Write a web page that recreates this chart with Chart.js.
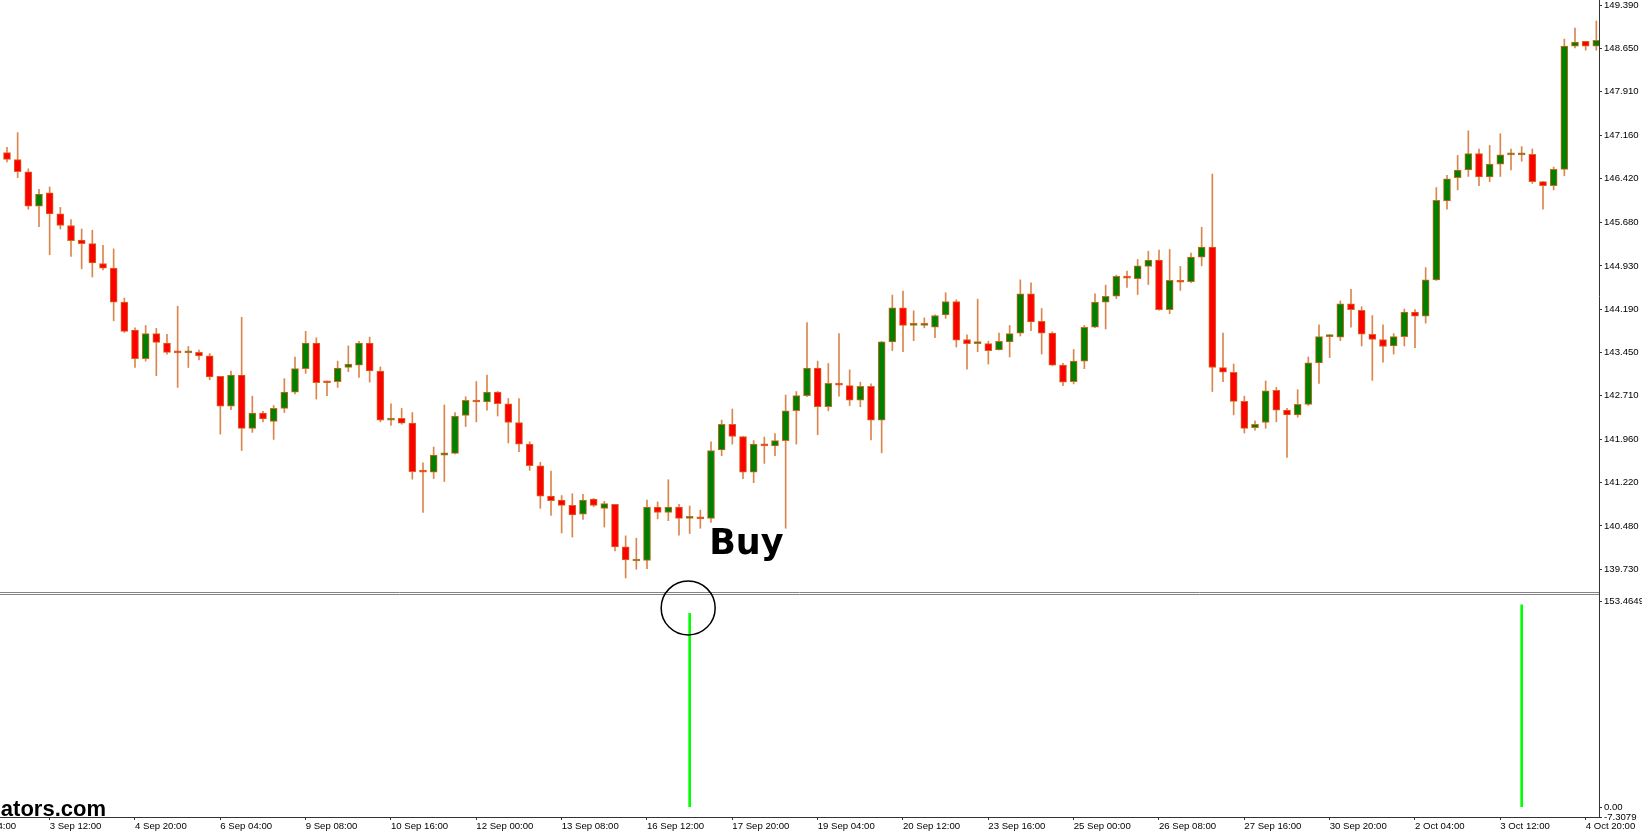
<!DOCTYPE html>
<html>
<head>
<meta charset="utf-8">
<script src="https://cdn.jsdelivr.net/npm/chart.js@4.4.1/dist/chart.umd.min.js"></script>
<style>
html,body{margin:0;padding:0;background:#fff;overflow:hidden}
canvas{display:block}
</style>
</head>
<body>
<canvas id="c" width="1642" height="832"></canvas>
<script>
// ---- H4 candles (USDJPY-like), index 0 = 2 Sep 20:00 ----
const opens = [
146.87,146.75,146.54,145.95,146.18,145.82,145.62,145.37,145.31,144.97,
144.89,144.31,143.83,143.34,143.77,143.61,143.45,143.44,143.45,143.39,
143.04,142.53,143.06,142.15,142.41,142.27,142.49,142.77,143.17,143.61,
142.95,142.95,143.19,143.23,143.61,143.13,142.29,142.32,142.24,141.41,
141.40,141.69,141.72,142.37,142.63,142.60,142.77,142.57,142.25,141.88,
141.51,140.99,140.92,140.83,140.68,140.94,140.78,140.85,140.12,139.88,
139.89,140.80,140.71,140.80,140.61,140.61,140.61,141.78,142.22,142.01,
141.40,141.88,141.85,141.94,142.45,142.71,143.18,142.52,142.92,142.88,
142.63,142.87,142.29,143.63,144.21,143.91,143.91,143.88,144.09,144.32,
143.67,143.60,143.60,143.49,143.63,143.78,144.45,143.98,143.78,143.23,
142.95,143.30,143.88,144.31,144.41,144.75,144.71,144.92,145.03,144.18,
144.68,144.66,145.08,145.25,143.19,143.11,142.61,142.16,142.25,142.80,
142.46,142.38,142.56,143.27,143.72,143.71,144.28,144.17,143.76,143.67,
143.56,143.72,144.14,144.07,144.69,146.04,146.44,146.57,146.85,146.45,
146.67,146.83,146.83,146.84,146.37,146.30,146.58,148.69,148.77,148.69
];
const highs = [
146.96,147.21,146.59,146.24,146.28,145.93,145.72,145.56,145.54,145.28,
145.22,144.38,143.87,143.91,143.86,143.76,144.24,143.55,143.49,143.43,
143.04,143.13,144.05,142.70,142.44,142.54,143.00,143.37,143.81,143.70,
142.96,143.30,143.56,143.64,143.71,143.20,142.57,142.49,142.42,141.56,
141.83,142.55,142.42,142.69,142.95,143.06,142.78,142.66,142.66,141.92,
141.57,141.42,141.00,141.03,141.02,140.95,140.90,140.85,140.31,140.27,
140.92,140.89,141.27,140.85,140.82,140.75,141.92,142.29,142.48,142.01,
141.94,142.00,142.06,142.72,142.78,143.96,143.30,143.26,143.77,143.15,
142.94,142.91,143.64,144.43,144.50,144.16,144.04,144.09,144.47,144.35,
143.75,144.36,143.64,143.78,143.91,144.69,144.64,144.20,143.80,143.26,
143.50,143.91,144.45,144.60,144.77,144.84,145.04,145.18,145.20,145.21,
144.92,145.15,145.59,146.50,143.78,143.25,142.70,142.28,142.96,142.85,
142.49,142.81,143.37,143.92,143.75,144.33,144.53,144.23,144.08,143.92,
143.77,144.19,144.18,144.90,146.27,146.48,146.82,147.24,146.93,146.99,
147.19,146.93,146.97,146.93,146.37,146.62,148.81,149.00,148.77,149.12
];
const lows = [
146.71,146.44,145.90,145.60,145.12,145.56,145.09,144.88,144.74,144.86,
143.99,143.79,143.19,143.30,143.05,143.42,142.85,143.19,143.32,142.98,
142.05,142.47,141.77,142.08,142.26,141.96,142.42,142.74,143.09,142.65,
142.71,142.85,143.12,143.02,142.94,142.26,142.20,142.22,141.28,140.71,
141.29,141.24,141.71,142.18,142.26,142.46,142.36,141.90,141.75,141.43,
140.78,140.66,140.36,140.29,140.59,140.81,140.46,140.05,139.59,139.74,
139.75,140.60,140.57,140.32,140.35,140.44,140.54,141.68,141.88,141.29,
141.22,141.55,141.68,140.44,141.88,142.69,142.04,142.45,142.70,142.54,
142.52,141.95,141.73,143.48,143.46,143.65,143.87,143.70,144.03,143.54,
143.16,143.46,143.25,143.49,143.37,143.73,143.82,143.42,143.22,142.88,
142.91,143.17,143.87,143.85,144.37,144.56,144.44,144.61,144.17,144.11,
144.51,144.64,144.93,142.78,142.95,142.38,142.07,142.12,142.15,142.26,
141.65,142.34,142.54,142.92,143.36,143.65,143.88,143.56,142.97,143.28,
143.42,143.56,143.53,143.95,144.68,145.90,146.23,146.46,146.30,146.37,
146.46,146.57,146.72,146.34,145.90,146.23,146.47,148.66,148.62,148.62
];
const closes = [
146.75,146.54,145.95,146.16,145.82,145.62,145.36,145.31,144.98,144.89,
144.31,143.81,143.34,143.77,143.62,143.45,143.44,143.44,143.39,143.03,
142.53,143.06,142.15,142.41,142.31,142.49,142.77,143.17,143.61,142.93,
142.93,143.18,143.25,143.61,143.13,142.29,142.30,142.24,141.41,141.40,
141.69,141.73,142.36,142.63,142.60,142.77,142.57,142.25,141.88,141.51,
140.99,140.91,140.83,140.67,140.92,140.83,140.86,140.12,139.90,139.90,
140.80,140.71,140.80,140.61,140.61,140.60,141.77,142.22,142.01,141.40,
141.88,141.85,141.94,142.45,142.71,143.18,142.52,142.92,142.89,142.63,
142.87,142.29,143.63,144.21,143.91,143.91,143.92,144.08,144.32,143.66,
143.60,143.60,143.48,143.64,143.77,144.45,143.97,143.78,143.23,142.94,
143.30,143.88,144.31,144.41,144.75,144.72,144.93,145.03,144.18,144.68,
144.65,145.08,145.25,143.19,143.11,142.61,142.15,142.22,142.79,142.46,
142.38,142.56,143.27,143.72,143.72,144.28,144.18,143.76,143.67,143.55,
143.72,144.14,144.07,144.69,146.05,146.42,146.57,146.85,146.45,146.67,
146.83,146.83,146.84,146.37,146.30,146.58,148.69,148.76,148.69,148.79
];

// indicator histogram (bar index -> value)
const signalIndex  = [64, 142];
const signalValues = [144.5, 150.9];
const signalText   = 'Buy';

// axis tick labels
const priceTicks = [149.390,148.650,147.910,147.160,146.420,145.680,144.930,144.190,143.450,142.710,141.960,141.220,140.480,139.730];
const indicatorTicks = [153.4649, 0, -7.3079];
const indicatorTickLabels = ['153.4649', '0.00', '-7.3079'];
const timeTickIndices = [-4,4,12,20,28,36,44,52,60,68,76,84,92,100,108,116,124,132,140,148];
const watermark = 'indicators.com';

// bar times: H4 bars starting 2 Sep 2024 04:00 (index -4); first drawn bar (index 0) = 2 Sep 20:00
const FIRST_INDEX = -4;
const MONTHS = ['Jan','Feb','Mar','Apr','May','Jun','Jul','Aug','Sep','Oct','Nov','Dec'];
function buildBarTimes(n) {
  const H = 3600e3, out = [];
  let t = Date.UTC(2024, 8, 2, 4);
  while (out.length < n) {
    const d = new Date(t);
    out.push(d.getUTCDate() + ' ' + MONTHS[d.getUTCMonth()] + ' ' + String(d.getUTCHours()).padStart(2, '0') + ':00');
    t += 4 * H;
    let nd = new Date(t);
    while (nd.getUTCDay() === 6 || (nd.getUTCDay() === 0 && nd.getUTCHours() < 20)) { t += 4 * H; nd = new Date(t); }
  }
  return out;
}
const barTimes = buildBarTimes(closes.length - FIRST_INDEX);
const timeLabel = i => barTimes[i - FIRST_INDEX];

// ---- build datasets ----
const idx = closes.map((_, i) => i);
const wickData = idx.map(i => ({x: i, y: [lows[i], highs[i]]}));
const bodyData = idx.map(i => ({x: i, y: [opens[i], closes[i]]}));
const bodyColors = idx.map(i => closes[i] >= opens[i] ? '#008000' : '#ff0000');
const signalData = signalIndex.map((x, k) => ({x: x, y: [0, signalValues[k]]}));

const CANDLE_EDGE = '#d2691e';
const AXIS_COLOR = '#333333';
const FONT = {family: '"Liberation Sans", Arial, sans-serif', size: 9.6};

const overlay = {
  id: 'overlay',
  afterDraw(chart) {
    const {ctx, scales} = chart;
    const x = scales.x, y = scales.y, y2 = scales.y2;
    ctx.save();
    // pane separator (double line)
    ctx.strokeStyle = '#858585';
    ctx.lineWidth = 1;
    [0.5, 2.5].forEach(o => {
      ctx.beginPath();
      ctx.moveTo(x.left, Math.round(y.bottom) + o);
      ctx.lineTo(x.right, Math.round(y.bottom) + o);
      ctx.stroke();
    });
    // signal text
    const sx = x.getPixelForValue(signalIndex[0]);
    ctx.fillStyle = '#000';
    ctx.font = 'bold 35px "DejaVu Sans", sans-serif';
    ctx.textAlign = 'left';
    ctx.textBaseline = 'alphabetic';
    ctx.fillText(signalText, sx + 19.5, y.bottom - 38);
    // circle around the signal
    ctx.beginPath();
    ctx.lineWidth = 1.5;
    ctx.strokeStyle = '#000';
    ctx.arc(sx - 1.5, y2.getPixelForValue(signalValues[0]) - 5.5, 27, 0, Math.PI * 2);
    ctx.stroke();
    // watermark
    ctx.font = 'bold 22px "Liberation Sans", Arial, sans-serif';
    ctx.textAlign = 'right';
    ctx.fillText(watermark, 106, y2.bottom - 1);
    ctx.restore();
  }
};

new Chart(document.getElementById('c').getContext('2d'), {
  type: 'bar',
  data: {
    datasets: [
      {label: 'wick', data: wickData, yAxisID: 'y', backgroundColor: 'rgba(214,112,45,0.85)',
       barThickness: 1, grouped: false, order: 2},
      {label: 'body', data: bodyData, yAxisID: 'y', backgroundColor: bodyColors, borderColor: CANDLE_EDGE,
       borderWidth: 1, borderSkipped: false, barThickness: 7, minBarLength: 2, grouped: false, order: 1},
      {label: 'signal', data: signalData, yAxisID: 'y2', backgroundColor: '#00ff00',
       barThickness: 2, grouped: false, order: 0}
    ]
  },
  options: {
    responsive: false,
    animation: false,
    devicePixelRatio: 1,
    layout: {padding: 0},
    plugins: {legend: {display: false}, tooltip: {enabled: false}},
    scales: {
      x: {
        type: 'linear', position: 'bottom', min: -0.656, max: 149.25, offset: false,
        afterBuildTicks: s => { s.ticks = timeTickIndices.map(v => ({value: v})); },
        afterFit: s => { s.height = 15; s.paddingLeft = 0; s.paddingRight = 0; },
        ticks: {autoSkip: false, maxRotation: 0, align: 'start', padding: 1, color: '#000', font: FONT,
                callback: v => timeLabel(v)},
        grid: {drawOnChartArea: false, offset: false, tickLength: 3, color: AXIS_COLOR},
        border: {color: AXIS_COLOR}
      },
      y: {
        type: 'linear', position: 'right', stack: 'panes', stackWeight: 592,
        min: 139.349, max: 149.479,
        afterBuildTicks: s => { s.ticks = priceTicks.map(v => ({value: v})); },
        afterFit: s => { s.width = 43; s.paddingTop = 0; s.paddingBottom = 0; },
        ticks: {autoSkip: false, padding: 2, color: '#000', font: FONT, callback: v => v.toFixed(3)},
        grid: {drawOnChartArea: false, tickLength: 3, color: AXIS_COLOR},
        border: {color: AXIS_COLOR}
      },
      y2: {
        type: 'linear', position: 'right', stack: 'panes', stackWeight: 225,
        min: -7.3079, max: 160.5,
        afterBuildTicks: s => { s.ticks = indicatorTicks.map(v => ({value: v})); },
        afterFit: s => { s.width = 43; s.paddingTop = 0; s.paddingBottom = 0; },
        ticks: {autoSkip: false, padding: 2, color: '#000', font: FONT,
                callback: (v, i) => indicatorTickLabels[indicatorTicks.indexOf(v)]},
        grid: {drawOnChartArea: false, tickLength: 3, color: AXIS_COLOR},
        border: {color: AXIS_COLOR}
      }
    }
  },
  plugins: [overlay]
});
</script>
</body>
</html>
